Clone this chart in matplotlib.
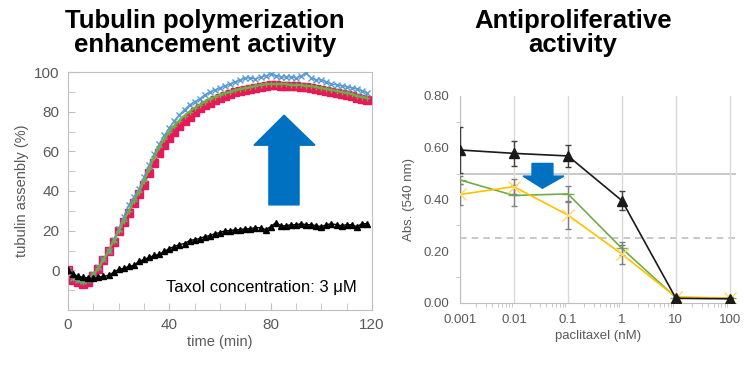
import numpy as np
import matplotlib.pyplot as plt
from matplotlib.patches import Polygon
from matplotlib.ticker import MultipleLocator, LogLocator, NullFormatter

# ---- data: tubulin polymerization (every 2 min) ----
time_min = np.arange(0, 120, 2)

taxol_red = [0, -5, -6, -7, -6, -3, 0.5, 5, 9.5, 14.5,
             20, 24.5, 29, 34, 38.5, 43, 49, 54, 59, 63,
             66.5, 70, 73, 75.5, 77.5, 80, 82, 83.5, 84.5, 86,
             87, 88, 89, 90, 90.5, 91, 91.5, 92, 92.5, 93,
             93.5, 93.5, 93, 93, 93, 93, 92.5, 92.5, 92, 91.5,
             91, 90.5, 90, 89.5, 89, 88.5, 88, 87, 86.5, 86]

cmpd_blue = [0, -4, -5, -5.5, -5, -2, 1.5, 5.5, 10, 15.5,
             21, 27, 33, 37, 41, 47, 53, 58.5, 63.5, 68,
             72, 75.5, 78.5, 81, 83.5, 85, 86.5, 88.5, 90, 91,
             92, 93, 94, 95, 96, 97, 97, 96.5, 97.5, 98,
             99, 98, 97.5, 97.5, 97.5, 97, 98, 99.5, 97, 96,
             96, 95, 94, 93.5, 93, 92.5, 92, 91.5, 90.5, 89.5]

cmpd_green = [0, -4, -5, -6, -5, -2, 1, 5.5, 9.5, 15,
              20, 25, 30, 35, 39.5, 45, 51, 57, 62, 66,
              70, 73, 75.5, 78, 80, 82, 83.5, 85, 86.5, 87.5,
              88.5, 89.5, 90, 91, 91.5, 92, 92.5, 93, 93.5, 94,
              94, 94, 94, 94, 93.5, 93.5, 93.5, 93, 93, 92.5,
              92, 91.5, 91, 90.5, 90, 89.5, 89, 88, 87.5, 87]

control_black = [0, -2, -3, -3.5, -4, -4, -3.5, -3, -2.5, -1,
                 0.5, 1, 2, 2.5, 4.5, 5.5, 6.5, 7.5, 8, 9.5,
                 11, 12, 13, 13.5, 15, 15.5, 16, 17, 17.5, 18.5,
                 19, 20, 20, 20.5, 20.5, 21, 21, 21.5, 21.5, 20.5,
                 22, 24, 22.5, 22.5, 23, 23, 23.5, 23, 23, 22.5,
                 22, 23, 23.5, 23, 22.5, 23, 23, 22, 23.5, 23.5]

# ---- data: antiproliferative activity ----
paclitaxel_nM = [0.001, 0.01, 0.1, 1, 10, 100]
abs_black = [0.591, 0.578, 0.568, 0.395, 0.017, 0.015]
err_black = [0.088, 0.048, 0.044, 0.036, 0.005, 0.005]
abs_green = [0.475, 0.415, 0.421, 0.210, 0.020, 0.018]
err_green = [0.015, 0.040, 0.030, 0.024, 0.004, 0.004]
abs_yellow = [0.419, 0.449, 0.339, 0.188, 0.022, 0.018]
err_yellow = [0.040, 0.030, 0.055, 0.037, 0.004, 0.004]

GREY = '#595959'
SPINE = '#bfbfbf'
ARROW = '#0070c0'
plt.rcParams['font.family'] = ['Liberation Sans', 'DejaVu Sans']

fig = plt.figure(figsize=(7.47, 3.69), dpi=100)

title_font = dict(fontweight='bold', fontsize=18.5, ha='center', va='center', linespacing=1.0)
fig.text(205 / 747, 1 - 33 / 369, 'Tubulin polymerization\nenhancement activity', **title_font)
fig.text(573 / 747, 1 - 33 / 369, 'Antiproliferative\nactivity', **title_font)

# ---- left panel ----
ax1 = fig.add_axes([68 / 747, 1 - 310 / 369, 304 / 747, 238 / 369])
ax1.plot(time_min, taxol_red, color='#e8185a', marker='s', ms=6, lw=1, zorder=3)
ax1.plot(time_min, cmpd_blue, color='#5b9bd5', marker='x', ms=5, mew=1, lw=1, zorder=4)
ax1.plot(time_min, cmpd_green, color='#70ad47', marker='+', ms=5, mew=1, lw=1.5, zorder=5)
ax1.plot(time_min, control_black, color='black', marker='^', ms=5, lw=1, zorder=5)

ax1.set_xlim(0, 120)
ax1.set_ylim(-20, 100)
ax1.set_xticks([0, 40, 80, 120])
ax1.set_yticks([0, 20, 40, 60, 80, 100])
ax1.xaxis.set_minor_locator(MultipleLocator(10))
ax1.yaxis.set_minor_locator(MultipleLocator(10))
ax1.tick_params(which='both', direction='in', colors=SPINE, labelcolor=GREY, labelsize=11)
ax1.tick_params(which='major', length=5, pad=6)
ax1.tick_params(which='minor', length=5)
for s in ax1.spines.values():
    s.set_color(SPINE)
ax1.set_xlabel('time (min)', color=GREY, fontsize=10.5, labelpad=2)
ax1.set_ylabel('tubulin assenbly (%)', color=GREY, fontsize=10.5, labelpad=4)

ax1.add_patch(Polygon([[79.3, 33], [91.2, 33], [91.2, 63.1], [97.5, 63.1],
                       [85.3, 78.2], [73.4, 63.1], [79.3, 63.1]],
                      closed=True, color=ARROW, zorder=6))
ax1.text(114, -8.5, 'Taxol concentration: 3 μM', fontsize=12, ha='right', va='center')

# ---- right panel ----
ax2 = fig.add_axes([460 / 747, 1 - 302.7 / 369, 276 / 747, 206.7 / 369])
ax2.set_xscale('log')
ax2.set_xlim(0.001, 130)
ax2.set_ylim(0, 0.8)
ax2.grid(axis='x', which='major', color='#d9d9d9', lw=1)
ax2.axhline(0.5, color='#bfbfbf', lw=1.2, zorder=1)
ax2.axhline(0.25, color='#bfbfbf', lw=1.2, ls=(0, (4, 3)), zorder=1)

ax2.errorbar(paclitaxel_nM, abs_green, yerr=err_green, color='#70ad47', marker='_', ms=8,
             lw=1.2, ecolor='#7f7f7f', elinewidth=1, capsize=2, zorder=3)
ax2.errorbar(paclitaxel_nM, abs_yellow, yerr=err_yellow, color='#ffc000', marker='x', ms=8,
             mec='#ffd966', lw=1.2, ecolor='#7f7f7f', elinewidth=1, capsize=2, zorder=4)
ax2.errorbar(paclitaxel_nM, abs_black, yerr=err_black, color='#1a1a1a', marker='^', ms=7,
             lw=1.2, ecolor='#404040', elinewidth=1, capsize=2, zorder=5)

ax2.set_yticks([0, 0.2, 0.4, 0.6, 0.8])
ax2.set_yticklabels(['0.00', '0.20', '0.40', '0.60', '0.80'])
ax2.yaxis.set_minor_locator(MultipleLocator(0.1))
ax2.set_xticks(paclitaxel_nM)
ax2.set_xticklabels(['0.001', '0.01', '0.1', '1', '10', '100'])
ax2.xaxis.set_minor_locator(LogLocator(base=10, subs=np.arange(2, 10)))
ax2.xaxis.set_minor_formatter(NullFormatter())
ax2.tick_params(which='both', direction='out', colors=SPINE, labelcolor=GREY, labelsize=9.5)
ax2.tick_params(which='major', length=0, pad=8)
ax2.tick_params(which='minor', length=3)
for side in ['top', 'right']:
    ax2.spines[side].set_visible(False)
for side in ['left', 'bottom']:
    ax2.spines[side].set_color(SPINE)
ax2.set_xlabel('paclitaxel (nM)', color=GREY, fontsize=9.5, labelpad=3)
ax2.set_ylabel('Abs. (540 nm)', color=GREY, fontsize=9.5, labelpad=6)

ax2.add_patch(Polygon([[0.0216, 0.539], [0.0527, 0.539], [0.0527, 0.490], [0.0843, 0.490],
                       [0.0337, 0.443], [0.0147, 0.490], [0.0216, 0.490]],
                      closed=True, color=ARROW, zorder=6))

fig.savefig('out.png', dpi=100)
